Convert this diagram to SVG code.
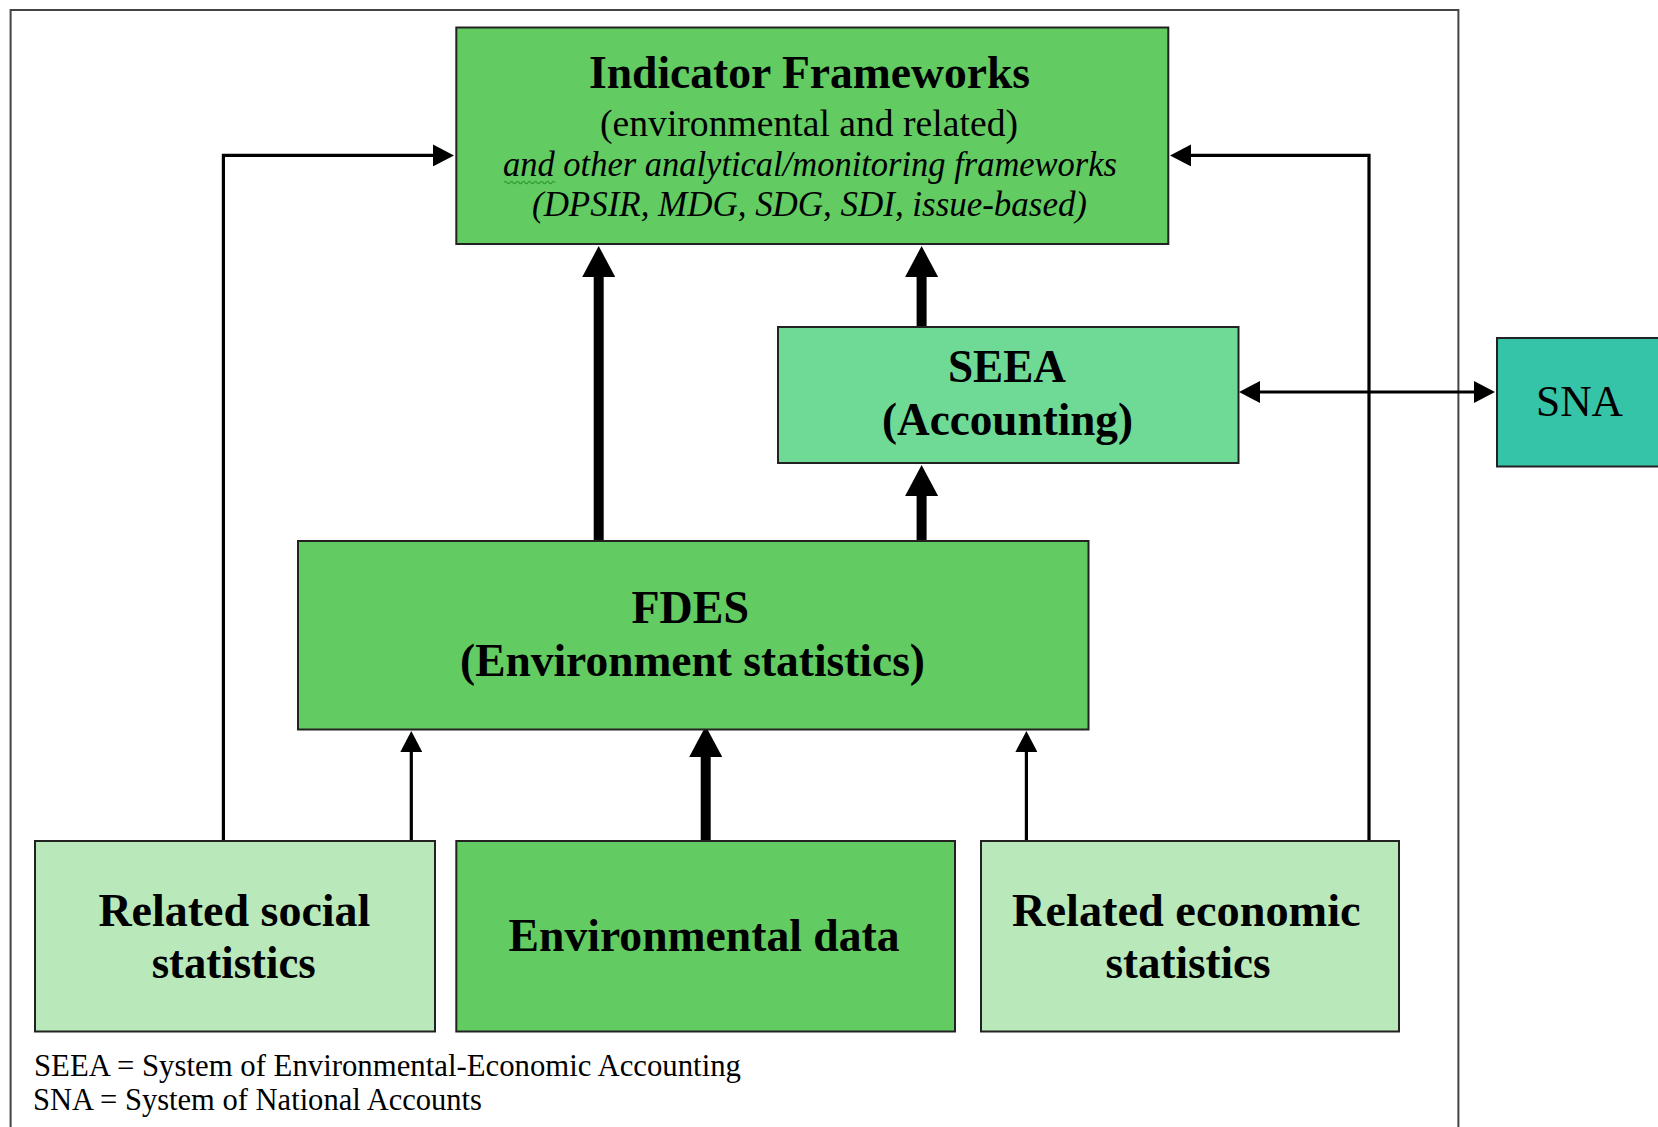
<svg xmlns="http://www.w3.org/2000/svg" width="1658" height="1127" viewBox="0 0 1658 1127">
<style>
.box{stroke:#222;stroke-width:2}
.g{fill:#62CB62}
.seea{fill:#6FD996}
.sna{fill:#36C4A9}
.lt{fill:#B9E8BA}
.b{font-family:"Liberation Serif","Times New Roman",serif;font-weight:bold;font-size:46.5px;fill:#000}
.r{font-family:"Liberation Serif","Times New Roman",serif;font-size:38px;fill:#000}
.i{font-family:"Liberation Serif","Times New Roman",serif;font-style:italic;font-size:36px;fill:#000}
.leg{font-family:"Liberation Serif","Times New Roman",serif;font-size:31px;fill:#000}
.thin{fill:none;stroke:#000;stroke-width:3.2}
.thick{fill:none;stroke:#000;stroke-width:10}
</style>
<defs>
<marker id="ah" viewBox="0 0 21 22" markerWidth="21" markerHeight="22" refX="1" refY="11" orient="auto-start-reverse" markerUnits="userSpaceOnUse">
<path d="M0,0 L21,11 L0,22 z" fill="#000"/>
</marker>
<marker id="AH" viewBox="0 0 31 33" markerWidth="31" markerHeight="33" refX="1" refY="16.5" orient="auto" markerUnits="userSpaceOnUse">
<path d="M0,0 L31,16.5 L0,33 z" fill="#000"/>
</marker>
</defs>
<rect x="0" y="0" width="1658" height="1127" fill="#fff"/>
<rect id="frame" x="10.6" y="10" width="1447.8" height="1140" fill="none" stroke="#444" stroke-width="2"/>

<g id="connectors">
<path class="thin" d="M223.4,841 V155.4 H434" marker-end="url(#ah)"/>
<path class="thin" d="M1369,841 V155.4 H1190" marker-end="url(#ah)"/>
<path class="thin" d="M1259,392 H1475" marker-start="url(#ah)" marker-end="url(#ah)"/>
<path class="thick" d="M598.7,541 V276" marker-end="url(#AH)"/>
<path class="thick" d="M921.6,327 V276" marker-end="url(#AH)"/>
<path class="thick" d="M921.6,541 V495" marker-end="url(#AH)"/>
<path class="thick" d="M705.7,841 V756" marker-end="url(#AH)"/>
<path class="thin" d="M411.3,841 V751" marker-end="url(#ah)"/>
<path class="thin" d="M1026.4,841 V751" marker-end="url(#ah)"/>
</g>

<g id="indicator">
<rect class="box g" x="456.3" y="27.5" width="712" height="216.5"/>
<text class="b" x="589" y="87.5" textLength="441" lengthAdjust="spacingAndGlyphs">Indicator Frameworks</text>
<text class="r" x="600" y="136" textLength="418" lengthAdjust="spacingAndGlyphs">(environmental and related)</text>
<text class="i" x="503" y="176" textLength="614" lengthAdjust="spacingAndGlyphs">and other analytical/monitoring frameworks</text>
<path d="M504,182.5 q1.5,-2.4 3,0 t3,0 t3,0 t3,0 t3,0 t3,0 t3,0 t3,0 t3,0 t3,0 t3,0 t3,0 t3,0 t3,0 t3,0 t3,0 t3,0" fill="none" stroke="#2E9E2E" stroke-width="1.3"/>
<text class="i" x="532" y="216" textLength="555" lengthAdjust="spacingAndGlyphs">(DPSIR, MDG, SDG, SDI, issue-based)</text>
</g>

<g id="seea">
<rect class="box seea" x="778" y="327" width="460.5" height="136"/>
<text class="b" x="948" y="382" textLength="118" lengthAdjust="spacingAndGlyphs">SEEA</text>
<text class="b" x="882" y="435" textLength="251" lengthAdjust="spacingAndGlyphs">(Accounting)</text>
</g>

<g id="sna">
<rect class="box sna" x="1497" y="338" width="180" height="128.5"/>
<text class="r" style="font-size:45px" x="1536" y="416" textLength="87" lengthAdjust="spacingAndGlyphs">SNA</text>
</g>

<g id="fdes">
<rect class="box g" x="298" y="541" width="790.5" height="188.5"/>
<text class="b" x="631.5" y="623" textLength="117.5" lengthAdjust="spacingAndGlyphs">FDES</text>
<text class="b" x="460" y="676" textLength="465" lengthAdjust="spacingAndGlyphs">(Environment statistics)</text>
</g>

<g id="social">
<rect class="box lt" x="35" y="841" width="400" height="190.5"/>
<text class="b" x="98.4" y="925.5" textLength="272" lengthAdjust="spacingAndGlyphs">Related social</text>
<text class="b" x="151.7" y="977.5" textLength="164" lengthAdjust="spacingAndGlyphs">statistics</text>
</g>

<g id="envdata">
<rect class="box g" x="456.3" y="841" width="498.7" height="190.5"/>
<text class="b" x="508.6" y="951" textLength="391" lengthAdjust="spacingAndGlyphs">Environmental data</text>
</g>

<g id="economic">
<rect class="box lt" x="981" y="841" width="418" height="190.5"/>
<text class="b" x="1012" y="925.5" textLength="348.6" lengthAdjust="spacingAndGlyphs">Related economic</text>
<text class="b" x="1105.6" y="977.5" textLength="165" lengthAdjust="spacingAndGlyphs">statistics</text>
</g>

<g id="legend">
<text class="leg" x="34" y="1076" textLength="707" lengthAdjust="spacingAndGlyphs">SEEA = System of Environmental-Economic Accounting</text>
<text class="leg" x="33" y="1110" textLength="449" lengthAdjust="spacingAndGlyphs">SNA = System of National Accounts</text>
</g>
</svg>
